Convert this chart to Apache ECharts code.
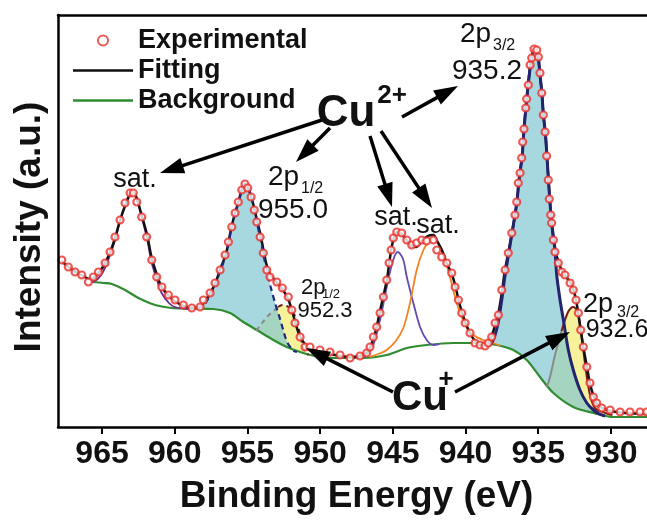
<!DOCTYPE html>
<html><head><meta charset="utf-8">
<script src="https://cdn.jsdelivr.net/npm/echarts@6/dist/echarts.min.js"></script>
<style>html,body{margin:0;padding:0;background:#fff}#c{width:647px;height:523px}</style>
</head><body><div id="c"></div><script>
// ---- data (binding energy in eV, intensity in a.u.) ----
const tickVals = [965, 960, 955, 950, 945, 940, 935, 930];

const expE = [967.77,967.32,966.86,966.40,965.94,965.60,965.25,964.79,964.45,964.11,
963.76,963.42,963.07,962.85,962.61,962.27,961.93,961.58,961.24,960.89,
960.44,959.98,959.41,958.83,958.26,958.03,957.57,957.23,956.88,956.54,
956.31,956.08,955.85,955.63,955.39,955.17,954.98,954.75,954.53,954.36,
954.13,953.91,953.67,953.45,952.98,952.60,952.19,951.95,951.73,951.38,
951.04,950.70,950.01,949.32,948.63,947.94,947.26,946.80,946.57,946.34,
946.11,945.88,945.65,945.42,945.26,945.12,944.97,944.73,944.39,944.04,
943.70,943.36,943.01,942.67,942.21,941.98,941.64,941.29,940.95,940.72,
940.49,940.26,940.03,939.69,939.35,939.00,938.66,938.43,938.20,937.97,
937.74,937.51,937.28,937.06,936.82,936.60,936.48,936.37,936.25,936.14,
936.07,935.98,935.86,935.80,935.68,935.56,935.45,935.29,935.10,934.99,
934.88,934.76,934.65,934.53,934.42,934.31,934.24,934.14,934.08,933.96,
933.85,933.62,933.38,933.16,932.81,932.59,932.40,932.24,932.08,931.90,
931.66,931.44,931.21,930.98,930.63,930.06,929.37,928.69,928.00,927.54];
const expI = [167,160,155,152,145,150,155,164,175,190,
207,224,234,234,225,210,190,167,150,140,
132,127,122,119,120,127,134,144,157,172,
185,200,214,225,237,243,239,230,217,205,
190,174,157,150,145,139,130,117,104,90,
80,80,77,75,72,69,71,74,80,90,
100,114,130,147,164,177,189,195,194,187,
182,184,187,186,187,177,170,164,154,140,
127,114,104,94,84,82,81,84,90,104,
112,137,157,174,194,212,225,244,254,269,
285,298,319,328,342,362,369,378,377,370,
354,334,312,295,271,247,228,212,204,187,
175,164,155,152,144,137,127,114,97,80,
60,44,30,24,19,17,15,15,15,15];

const fitE = [967.8,967.3,966.8,966.3,965.9,965.6,965.3,964.9,964.5,964.1,963.8,963.4,963.1,962.85,962.6,962.3,961.9,961.6,961.2,960.9,960.4,960.0,959.4,958.8,958.3,958.0,957.6,957.2,956.9,956.5,956.3,956.1,955.85,955.6,955.4,955.15,955.0,954.75,954.5,954.35,954.1,953.9,953.7,953.45,953.0,952.6,952.2,951.95,951.7,951.4,951.0,950.7,950.0,949.3,948.6,947.9,947.3,946.8,946.55,946.3,946.1,945.9,945.65,945.4,945.25,945.1,944.95,944.7,944.4,944.0,943.7,943.4,943.0,942.6,942.2,942.0,941.6,941.3,940.95,940.7,940.5,940.25,940.0,939.7,939.35,939.0,938.7,938.4,938.2,937.95,937.75,937.5,937.3,937.05,936.8,936.6,936.45,936.35,936.25,936.1,936.0,935.85,935.7,935.55,935.45,935.3,935.15,935.0,934.9,934.75,934.65,934.5,934.4,934.3,934.2,934.1,934.0,933.85,933.6,933.4,933.15,932.8,932.6,932.4,932.25,932.1,931.9,931.65,931.45,931.2,931.0,930.6,930.0,929.0,927.5];
const fitI = [166,160,155,151,148,149,153,161,173,189,205,222,232,235,228,213,192,170,151,140,131,126,121,119,120,124,133,144,157,172,185,200,214,226,237,243,241,231,217,207,192,177,163,153,145,138,128,117,104,91,82,78,75,73,71,70,71,74,80,90,101,115,131,148,164,178,188,195,193,186,181,180,186,191,192,187,176,164,153,141,128,115,104,94,86,82,82,85,91,103,113,135,156,175,195,212,227,244,256,272,295,320,342,361,370,377,377,370,355,334,313,292,270,248,226,209,193,177,165,157,151,145,138,127,114,98,80,60,44,31,24,19,16,14,13];

const bgE = [965.69,964.9,964.33,963.42,962.50,961.35,960.21,958.95,957.35,956.20,955.28,954.36,953.45,952.30,951.16,950.01,948.63,947.03,945.42,944.04,942.67,940.84,939.00,937.86,936.71,935.79,934.88,933.96,932.59,931.21,929.83,927.5];
const bgI = [145,144,143,137,129,122,119,118.5,118,114,105,97,89,80,74,70,69,69,72,79,82,84,84,82,77,67,50,34,20,14,10,10];

const sat963E = [965.69,965.3,964.9,964.5,964.1,963.8,963.4,963.1,962.85,962.6,962.3,961.9,961.6,961.2,960.9,960.4,960.0,959.4,958.8];
const sat963I = [145,148,156,170,187,204,222,233,234,227,211,188,165,146,134,124,120,118.5,118];

const p955E = [958.5,958.0,957.6,957.2,956.9,956.5,956.3,956.1,955.85,955.6,955.4,955.15,955.0,954.75,954.5,954.35,954.1,953.9,953.67,953.4,953.1,952.8,952.6,952.4,952.2,952.0,951.8,951.6];
const p955I = [119,122,131,142,155,171,184,199,213,225,236,242,240,230,215,204,188,172,157,140,124,110,100,90,83,79,76,75];

const cu952E = [954.4,954.0,953.6,953.2,952.9,952.6,952.3,952.0,951.8,951.6,951.45,951.3,951.15,951.0,950.8];
const cu952I = [96,104,111,116,120,122,121,118,113,106,97,87,79,75,72];

const sat944E = [947.2,946.8,946.34,945.88,945.42,945.0,944.66,944.3,944.04,943.59,943.13,942.67,942.21,941.8];
const sat944I = [69,72,82,107,140,166,175,168,150,124,100,87,82,83];

const sat942E = [946.6,946.0,945.42,944.8,944.28,943.82,943.36,942.9,942.44,942.1,941.75,941.41,941.07,940.72,940.38,939.92,939.46,938.78,938.09,937.6];
const sat942I = [70,73,77,86,99,124,157,177,187,189,180,167,150,130,114,100,92,87,84,81];

const p935E = [938.4,938.2,937.95,937.75,937.5,937.3,937.05,936.8,936.6,936.45,936.35,936.25,936.1,936.0,935.85,935.7,935.55,935.45,935.3,935.15,935.0,934.9,934.75,934.65,934.5,934.4,934.3,934.2,934.08,933.95,933.85,933.73,933.5,933.27,932.93,932.59,932.13,931.66,931.21,930.8,930.4];
const p935I = [82,84,93,105,128,150,172,194,212,227,243,255,271,294,319,341,360,369,377,377,370,355,334,313,292,270,248,226,204,190,178,152,127,107,77,57,37,24,17,13,11];

const cu932E = [934.45,934.31,934.08,933.85,933.62,933.4,933.16,932.95,932.75,932.59,932.4,932.24,932.13,932.0,931.9,931.78,931.66,931.44,931.25,931.1,930.8,930.55,930.2,929.9];
const cu932I = [40,44,57,72,84,96,107,115,119,120,118,112,104,92,77,63,50,32,23,19,16,15,13,12];

// ---- chart ----
const pairs = (E, I) => E.map((e, i) => [e, I[i]]);
const FONT = "'Liberation Sans', Arial, sans-serif";
const NARROW = "'Liberation Sans Narrow', 'Arial Narrow', 'Liberation Sans', sans-serif";
const NAVY = '#23236e';
const X_MIN = 927.52, X_MAX = 968.03;

function fillSeries(name, E, I, color, opacity, z) {
  return { name, type: 'line', data: pairs(E, I), smooth: 0.3, symbol: 'none', z,
    lineStyle: { width: 0, opacity: 0 }, areaStyle: { color, opacity }, silent: true };
}
function lineSeries(name, data, color, width, type, z) {
  return { name, type: 'line', data, smooth: 0.3, symbol: 'none', showSymbol: false, z,
    itemStyle: { color }, lineStyle: { color, width, type }, silent: true };
}

const chart = echarts.init(document.getElementById('c'), null, { renderer: 'canvas' });

function arrow(x1, y1, x2, y2) {
  const L = 24, W = 8;
  const dx = x2 - x1, dy = y2 - y1, d = Math.hypot(dx, dy);
  const ux = dx / d, uy = dy / d;
  const bx = x2 - ux * L, by = y2 - uy * L;
  return [
    { type: 'line', shape: { x1, y1, x2: bx + ux * 2, y2: by + uy * 2 }, style: { stroke: '#000', lineWidth: 3.5 }, z: 100 },
    { type: 'polygon', shape: { points: [[x2, y2], [bx - uy * W, by + ux * W], [bx + uy * W, by - ux * W]] }, style: { fill: '#000' }, z: 100 }
  ];
}
function txt(text, x, y, size, bold, align) {
  return { type: 'text', z: 100, style: { text, x, y, fill: '#111', font: (bold ? 'bold ' : '') + size + 'px ' + FONT,
    align: align || 'center', verticalAlign: 'middle' } };
}

const graphics = [].concat(
  arrow(322, 120, 160, 173),
  arrow(330, 128, 296, 162),
  arrow(402, 117, 458, 86),
  arrow(370, 136, 392, 207),
  arrow(381, 131, 432, 208),
  arrow(393, 392, 306, 348),
  arrow(455, 392, 570, 332),
  [
    txt('sat.', 135, 180, 27),
    txt('2p', 268, 177, 28, false, 'left'),
    txt('1/2', 301, 189, 16, false, 'left'),
    txt('955.0', 293, 210, 28),
    txt('2p', 460, 34, 28, false, 'left'),
    txt('3/2', 493, 46, 16, false, 'left'),
    txt('935.2', 487, 71, 28),
    txt('Cu', 346, 114, 44, true),
    txt('2+', 392, 96, 26, true),
    txt('sat.', 396, 218, 27),
    txt('sat.', 438, 226, 27),
    txt('2p', 301, 288, 22, false, 'left'),
    txt('1/2', 322, 294, 13, false, 'left'),
    txt('952.3', 325, 311, 22),
    txt('2p', 583, 305, 27, false, 'left'),
    txt('3/2', 617, 313, 16, false, 'left'),
    txt('932.6', 617, 330, 25),
    txt('Cu', 420, 398, 42, true),
    txt('+', 446, 380, 26, true)
  ]
);

const LINE_ICON = 'path://M0,0H60V2.5H0Z';

const option = {
  animation: false,
  backgroundColor: '#fff',
  grid: { left: 58, top: 15, bottom: 96, right: 0, show: false },
  legend: {
    left: 68, top: 22, orient: 'vertical', itemWidth: 60, itemHeight: 10, itemGap: 3, itemTextGap: 6,
    selectedMode: false,
    textStyle: { fontSize: 27, fontWeight: 'bold', fontFamily: FONT, color: '#111', lineHeight: 27 },
    data: [
      { name: 'Experimental' },
      { name: 'Fitting', icon: LINE_ICON },
      { name: 'Background', icon: LINE_ICON }
    ]
  },
  xAxis: [{
    type: 'value', inverse: true, min: X_MIN, max: X_MAX, z: 10,
    axisLine: { show: true, lineStyle: { color: '#000', width: 2.5 } },
    axisTick: { show: true, inside: false, length: 7, lineStyle: { color: '#000', width: 2 }, customValues: tickVals },
    axisLabel: { show: true, customValues: tickVals, fontSize: 32, fontWeight: 'bold', fontFamily: NARROW, color: '#111', margin: 11 },
    splitLine: { show: false },
    name: 'Binding Energy (eV)', nameLocation: 'middle', nameGap: 51,
    nameTextStyle: { fontSize: 37, fontWeight: 'bold', fontFamily: FONT, color: '#111', padding: [0, 0, 0, 8] }
  }, {
    type: 'value', inverse: true, min: X_MIN, max: X_MAX, position: 'top', z: 10,
    axisLine: { show: true, lineStyle: { color: '#000', width: 2.5 } },
    axisTick: { show: false }, axisLabel: { show: false }, splitLine: { show: false }
  }],
  yAxis: {
    type: 'value', min: 0, max: 412, z: 10,
    axisLine: { show: true, lineStyle: { color: '#000', width: 2.5 } },
    axisTick: { show: false }, axisLabel: { show: false }, splitLine: { show: false },
    name: 'Intensity (a.u.)', nameLocation: 'middle', nameGap: 10, nameRotate: 90,
    nameTextStyle: { fontSize: 37, fontWeight: 'bold', fontFamily: FONT, color: '#111', padding: [0, 12, 0, 0] }
  },
  series: [
    fillSeries('cu952fill', cu952E, cu952I, '#f6f29c', 1, 1),
    fillSeries('cu932fill', cu932E, cu932I, '#f6f29c', 1, 1),
    fillSeries('p955fill', p955E, p955I, '#83c7d1', 0.7, 2),
    fillSeries('p935fill', p935E, p935I, '#83c7d1', 0.7, 2),
    fillSeries('bgfill', bgE, bgI, '#ffffff', 1, 3),
    lineSeries('Background', pairs(bgE, bgI), '#2f8c2f', 2.2, 'solid', 4),
    lineSeries('sat963', pairs(sat963E, sat963I), '#6a2a90', 1.8, 'solid', 4),
    lineSeries('sat944', pairs(sat944E, sat944I), '#6449b0', 1.8, 'solid', 4),
    lineSeries('sat942', pairs(sat942E, sat942I), '#f5821f', 1.8, 'solid', 4),
    lineSeries('cu952grey', pairs(cu952E.slice(0, 5), cu952I.slice(0, 5)), '#8a8a8a', 2, [5, 4], 4),
    lineSeries('cu952red', pairs(cu952E.slice(4), cu952I.slice(4)), '#6e1a1a', 2, [5, 4], 4),
    lineSeries('cu932grey', pairs(cu932E.slice(0, 6), cu932I.slice(0, 6)), '#8a8a8a', 2, 'solid', 4),
    lineSeries('cu932red', pairs(cu932E.slice(5), cu932I.slice(5)), '#7a1c1c', 2, 'solid', 4),
    lineSeries('Fitting', pairs(fitE, fitI), '#111111', 2.5, 'solid', 5),
    lineSeries('p955line', pairs(p955E, p955I), '#1d2a80', 2.2, [6, 4], 6),
    lineSeries('p935line', pairs(p935E, p935I), NAVY, 3, 'solid', 6),
    { name: 'Experimental', type: 'scatter', data: pairs(expE, expI), symbol: 'circle', symbolSize: 7, z: 7,
      itemStyle: { color: '#ffffff', borderColor: '#e8302a', borderWidth: 2.2 }, silent: true }
  ],
  graphic: graphics
};
chart.setOption(option);
</script></body></html>
